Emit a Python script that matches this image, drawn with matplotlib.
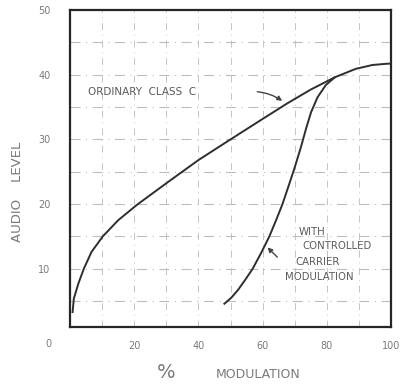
import matplotlib
matplotlib.use("Agg")
import matplotlib.pyplot as plt

# ordinary class C curve
ord_x = [0.8, 1.2, 2.6, 4.3, 6.7, 10.2, 15.0, 20.9, 30.5, 40.0, 49.7, 59.5, 67.8, 75.0, 82.5, 89.0, 94.2, 98.9, 99.8]
ord_y = [3.3, 5.4, 7.7, 10.0, 12.6, 15.0, 17.5, 19.9, 23.4, 26.8, 29.9, 33.0, 35.6, 37.7, 39.6, 40.9, 41.5, 41.7, 41.7]
# controlled carrier modulation curve
ccm_x = [48.1, 50.2, 52.3, 54.6, 56.9, 59.6, 62.1, 64.2, 66.2, 68.3, 69.9, 72.0, 73.5, 75.1, 77.1, 79.7, 82.5]
ccm_y = [4.6, 5.5, 6.7, 8.3, 10.0, 12.5, 15.0, 17.5, 20.0, 23.1, 25.5, 28.9, 31.6, 34.2, 36.5, 38.4, 39.6]

xticks = [20, 40, 60, 80, 100]
xticklabels = ["20", "40", "60", "80", "100"]
yticks = [10, 20, 30, 40, 50]
yticklabels = ["10", "20", "30", "40", "50"]

TXT = "#7a7a7a"
LINE = "#2e2e2e"

fig = plt.figure(figsize=(4.03, 3.85), dpi=100)
ax = fig.add_axes([70/403, 58/385, 321/403, 317/385])
ax.set_xlim(0, 100)
ax.set_ylim(1, 50)

# grid
for gx in range(10, 100, 10):
    ax.axvline(gx, color="#c4c4c4", lw=0.7, ls=(0, (7, 5, 1, 5)), zorder=1)
for gy in range(5, 50, 5):
    ax.axhline(gy, color="#bdbdbd", lw=0.8, ls=(0, (9, 5, 1, 5)), zorder=1)

ax.plot(ord_x, ord_y, color=LINE, lw=1.4, zorder=3)
ax.plot(ccm_x, ccm_y, color=LINE, lw=1.4, zorder=3)

for s in ax.spines.values():
    s.set_color("#262626")
    s.set_linewidth(1.6)

ax.set_xticks(xticks)
ax.set_xticklabels(xticklabels)
ax.set_yticks(yticks)
ax.set_yticklabels(yticklabels)
ax.tick_params(length=0, labelsize=7, labelcolor=TXT)
ax.tick_params(axis="y", pad=14)
ax.tick_params(axis="x", pad=10)

fig.text(48/403, 1 - 344/385, "0", fontsize=7, color=TXT, ha="center", va="center")

fig.text(18/403, 1 - 192/385, "AUDIO    LEVEL", rotation=90, fontsize=9.5, color=TXT,
         ha="center", va="center")
fig.text(166/403, 1 - 372/385, "%", fontsize=14, color=TXT, ha="center", va="center")
fig.text(258/403, 1 - 375/385, "MODULATION", fontsize=9, color=TXT, ha="center", va="center")

ax.text(5.6, 37.4, "ORDINARY  CLASS  C", fontsize=7.5, color="#5a5a5a", ha="left", va="center")
ax.annotate("", xy=(66.8, 35.7), xytext=(57.5, 37.4),
            arrowprops=dict(arrowstyle="-|>", color="#444444", lw=1.0,
                            connectionstyle="arc3,rad=-0.15", mutation_scale=7))

for label, px, py in [("WITH", 312, 232), ("CONTROLLED", 337, 246),
                      ("CARRIER", 318, 262), ("MODULATION", 319, 277)]:
    fig.text(px/403, 1 - py/385, label, fontsize=7.3, color="#5a5a5a", ha="center",
             va="center")
ax.annotate("", xy=(60.9, 13.6), xytext=(65.2, 11.5),
            arrowprops=dict(arrowstyle="-|>", color="#444444", lw=1.0, mutation_scale=7))

fig.savefig("out.png", dpi=100)
